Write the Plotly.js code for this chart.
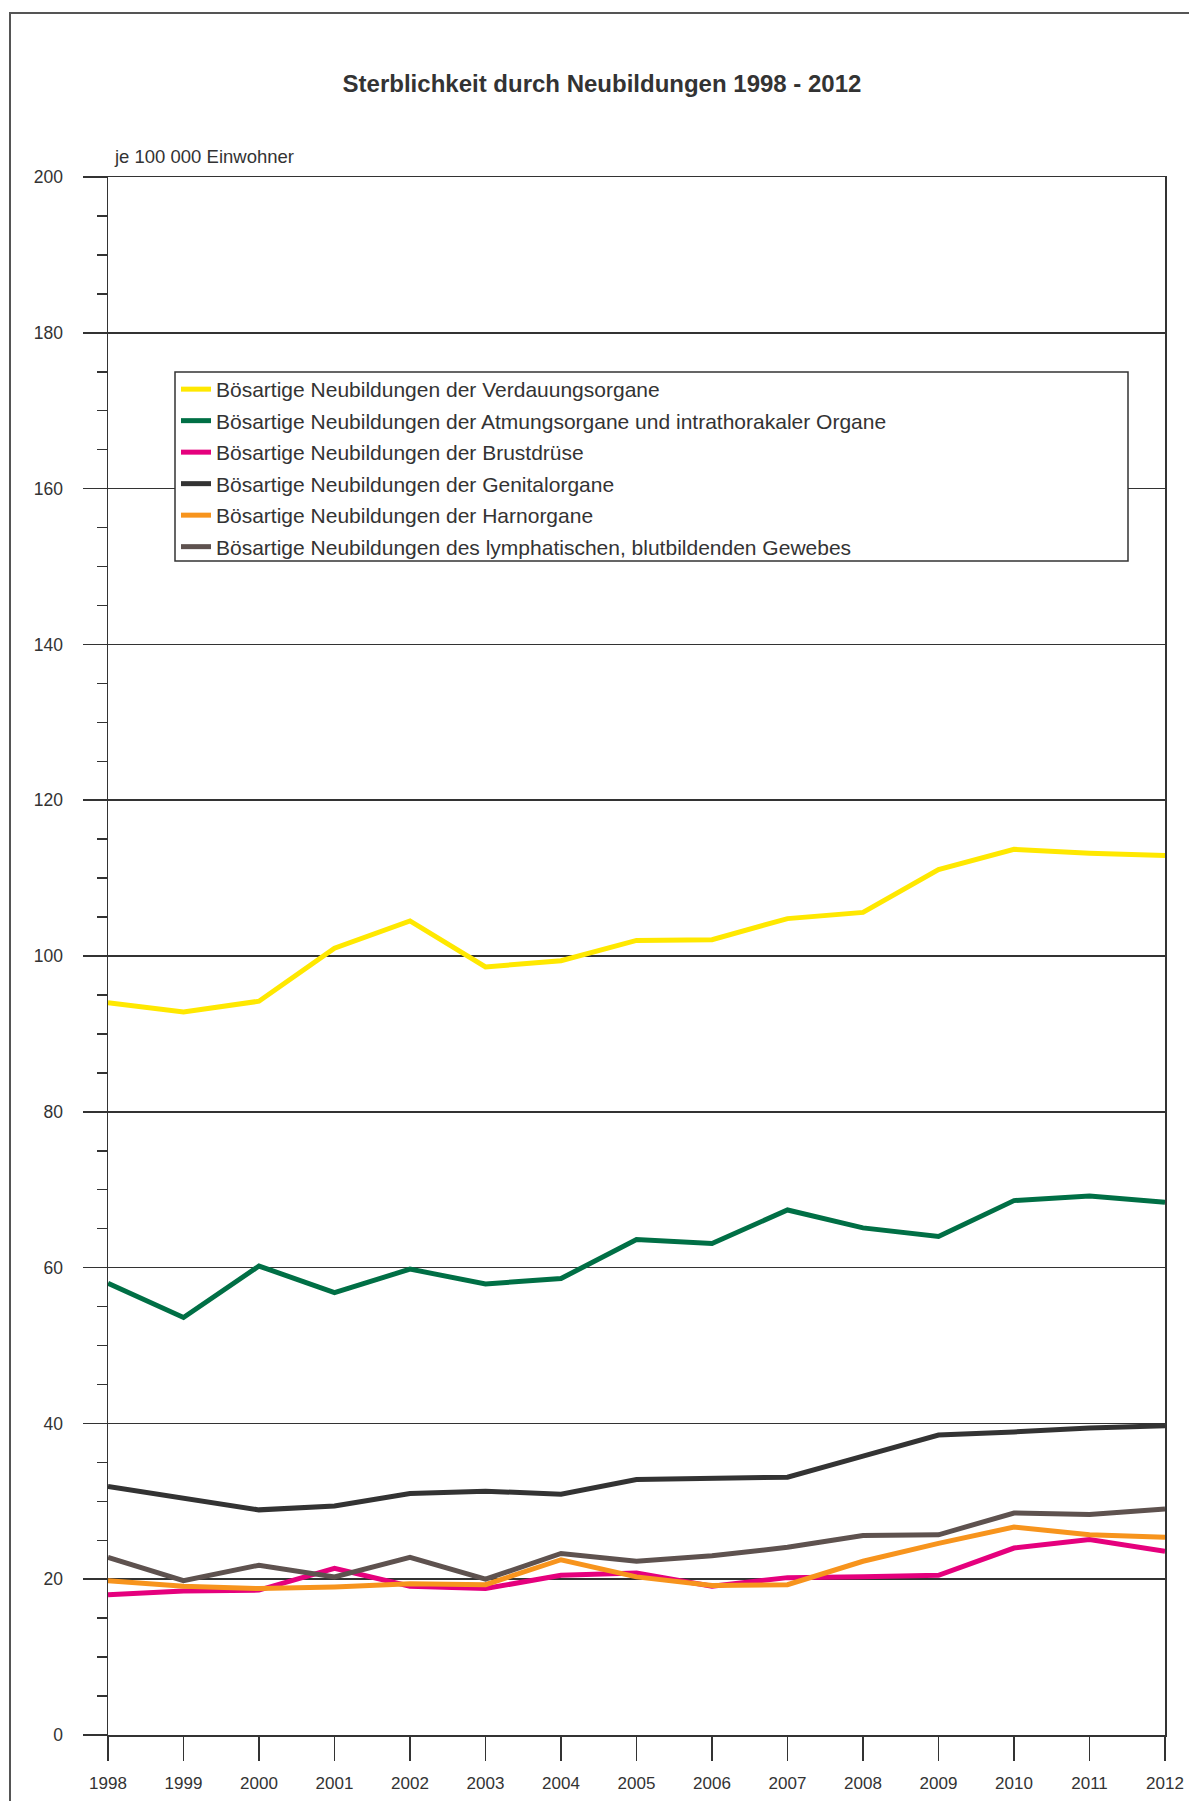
<!DOCTYPE html>
<html>
<head>
<meta charset="utf-8">
<script src="https://cdn.plot.ly/plotly-3.0.1.min.js"></script>
<style>
  html, body { margin: 0; padding: 0; background: #ffffff; }
  #chart { width: 1189px; height: 1801px; }
</style>
</head>
<body>
<div id="chart"></div>
<script>
// ---- Data ----
const years = [1998, 1999, 2000, 2001, 2002, 2003, 2004, 2005, 2006, 2007, 2008, 2009, 2010, 2011, 2012];

const seriesNames = [
  "Bösartige Neubildungen der Verdauungsorgane",
  "Bösartige Neubildungen der Atmungsorgane und intrathorakaler Organe",
  "Bösartige Neubildungen der Brustdrüse",
  "Bösartige Neubildungen der Genitalorgane",
  "Bösartige Neubildungen der Harnorgane",
  "Bösartige Neubildungen des lymphatischen, blutbildenden Gewebes"
];

const verdauung = [94.0, 92.8, 94.2, 101.0, 104.5, 98.6, 99.4, 102.0, 102.1, 104.8, 105.6, 111.1, 113.7, 113.2, 112.9];
const atmung    = [58.0, 53.6, 60.2, 56.8, 59.8, 57.9, 58.6, 63.6, 63.1, 67.4, 65.1, 64.0, 68.6, 69.2, 68.4];
const brust     = [18.0, 18.5, 18.6, 21.4, 19.1, 18.8, 20.5, 20.8, 19.1, 20.2, 20.3, 20.5, 24.0, 25.1, 23.6];
const genital   = [31.9, 30.4, 28.9, 29.4, 31.0, 31.3, 30.9, 32.8, 33.0, 33.1, 35.8, 38.5, 38.9, 39.4, 39.7];
const harn      = [19.8, 19.1, 18.8, 19.0, 19.4, 19.3, 22.5, 20.3, 19.2, 19.3, 22.3, 24.6, 26.7, 25.7, 25.4];
const lymph     = [22.8, 19.8, 21.8, 20.3, 22.8, 20.0, 23.3, 22.3, 23.0, 24.1, 25.6, 25.7, 28.5, 28.3, 29.0];

const seriesValues = [verdauung, atmung, brust, genital, harn, lymph];
const seriesColors = ["#ffe800", "#006f45", "#e5007d", "#333333", "#f7941d", "#5e524f"];

const yTicks = [0, 20, 40, 60, 80, 100, 120, 140, 160, 180, 200];

const titleText = "Sterblichkeit durch Neubildungen 1998 - 2012";
const unitText = "je 100 000 Einwohner";

// ---- Layout geometry (pixels) ----
const W = 1189, H = 1801;
const M = { l: 108, r: 24, t: 177, b: 66 };
const PW = W - M.l - M.r, PH = H - M.t - M.b;
const px2x = px => (px - M.l) / PW;
const py2y = py => (H - M.b - py) / PH;

const FONT = "Liberation Sans, Arial, Helvetica, sans-serif";
const TXT = "#333333";
const AX = "#333333";

const traces = seriesNames.map((name, i) => ({
  type: "scatter",
  mode: "lines",
  name: name,
  x: years,
  y: seriesValues[i],
  legendgroup: "g" + i,
  line: { color: seriesColors[i], width: 5, shape: "linear" },
  hoverinfo: "skip"
}));

const layout = {
  width: W,
  height: H,
  margin: M,
  paper_bgcolor: "#ffffff",
  plot_bgcolor: "#ffffff",
  showlegend: true,
  title: {
    text: titleText,
    font: { family: FONT, size: 24, weight: "bold", color: TXT },
    xref: "container", yref: "container",
    x: 602 / W, y: 1 - 84 / H,
    xanchor: "center", yanchor: "middle"
  },
  xaxis: {
    range: [1998, 2012],
    tickmode: "array",
    tickvals: years,
    ticktext: years.map(String),
    ticks: "outside",
    ticklen: 24,
    tickwidth: 1.5,
    tickcolor: AX,
    showgrid: false,
    zeroline: false,
    showline: true,
    linecolor: AX,
    linewidth: 1.5,
    mirror: true,
    ticklabelstandoff: 8,
    tickfont: { family: FONT, size: 17, color: TXT },
    fixedrange: true
  },
  yaxis: {
    range: [0, 200],
    tickmode: "array",
    tickvals: yTicks,
    ticktext: yTicks.map(String),
    ticks: "outside",
    ticklen: 24,
    tickwidth: 1.5,
    tickcolor: AX,
    showgrid: true,
    gridcolor: AX,
    gridwidth: 1.5,
    zeroline: false,
    showline: true,
    linecolor: AX,
    linewidth: 1.5,
    mirror: true,
    ticklabelstandoff: 16,
    tickfont: { family: FONT, size: 17.5, color: TXT },
    minor: { dtick: 5, ticks: "outside", ticklen: 10, tickwidth: 1.5, tickcolor: AX, showgrid: false },
    fixedrange: true
  },
  legend: {
    x: px2x(176), y: py2y(369),
    xanchor: "left", yanchor: "top",
    bgcolor: "rgba(255,255,255,0)",
    borderwidth: 0,
    traceorder: "grouped",
    tracegroupgap: 1.2,
    font: { family: FONT, size: 21, color: TXT },
    itemclick: false, itemdoubleclick: false
  },
  annotations: [{
    text: unitText,
    xref: "paper", yref: "paper",
    x: px2x(112), y: py2y(157),
    xanchor: "left", yanchor: "middle",
    showarrow: false,
    font: { family: FONT, size: 18.5, color: TXT }
  }],
  shapes: [
    { // outer frame
      type: "rect", xref: "paper", yref: "paper", layer: "above",
      x0: px2x(10), x1: px2x(1220), y0: py2y(1830), y1: py2y(13),
      line: { color: "#555555", width: 2 }, fillcolor: "rgba(0,0,0,0)"
    },
    { // legend box
      type: "rect", xref: "paper", yref: "paper", layer: "above",
      x0: px2x(175), x1: px2x(1128), y0: py2y(561), y1: py2y(372),
      line: { color: AX, width: 1.5 }, fillcolor: "#ffffff"
    }
  ]
};

Plotly.newPlot("chart", traces, layout, { staticPlot: true, displayModeBar: false });
</script>
</body>
</html>
